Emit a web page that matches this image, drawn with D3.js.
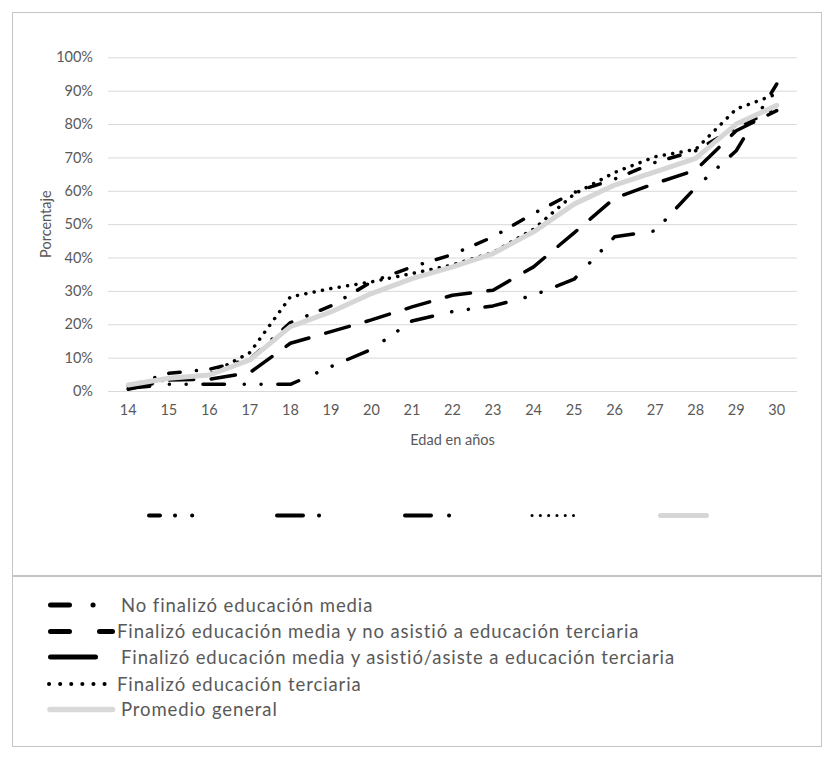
<!DOCTYPE html>
<html>
<head>
<meta charset="utf-8">
<script src="https://cdn.jsdelivr.net/npm/d3@7"></script>
<style>
  body { margin: 0; background: #ffffff; }
  svg text { font-family: Lato, "Open Sans", sans-serif; fill: #595959; }
</style>
</head>
<body>
<div id="dataViz"></div>
<script>
/* categories and values (percent) */
const ages = ["14", "15", "16", "17", "18", "19", "20", "21", "22", "23", "24", "25", "26", "27", "28", "29", "30"];
const noFinalizoMedia   = [0.8, 2, 2, 2, 2, 7.3, 12.5, 21, 23.8, 25.5, 28.7, 33.5, 46.2, 48, 61, 72, 92];
const mediaSinTerciaria = [0.5, 3.3, 3.5, 5.5, 14.3, 17.8, 21.3, 25.2, 28.7, 30.2, 37.2, 47.4, 57.8, 62.2, 66.2, 78, 84];
const mediaConTerciaria = [1.5, 5.3, 6.5, 9.5, 20.5, 25.5, 32.7, 37.2, 40.9, 46.2, 53.2, 59.5, 63.5, 68.5, 72, 79, 84.5];
const terciariaCompleta = [1.5, 3.5, 5, 11.5, 28.2, 30.7, 32.7, 35.2, 37.8, 41.5, 48.5, 59, 65.5, 70.2, 72.4, 84.5, 89];
const promedioGeneral   = [1.8, 3.8, 4.8, 9.3, 19.3, 23.7, 29.2, 33.7, 37.2, 41.2, 47.7, 56, 61.7, 65.7, 69.7, 80, 85.6];
const seriesNames = ["No finalizó educación media",
                     "Finalizó educación media y no asistió a educación terciaria",
                     "Finalizó educación media y asistió/asiste a educación terciaria",
                     "Finalizó educación terciaria",
                     "Promedio general"];
const yTicks = [0, 10, 20, 30, 40, 50, 60, 70, 80, 90, 100];

/* line styles, one per series */
const styles = [
    { color: "#000000", width: 3.5, dash: "21.5,19.75,0.1,16.7,0.1,16.75" },
    { color: "#000000", width: 3.5, dash: "24.5,17.5" },
    { color: "#000000", width: 3.5, dash: "11.5,16.3,0.1,14.5" },
    { color: "#000000", width: 3.5, dash: "0.1,8.4" },
    { color: "#d6d6d6", width: 5,   dash: null }
];

const seriesData = [noFinalizoMedia, mediaSinTerciaria, mediaConTerciaria, terciariaCompleta, promedioGeneral]
    .map((vals, i) => ({ name: seriesNames[i], style: styles[i],
                         values: vals.map((v, j) => ({ age: ages[j], pct: v })) }));

/* dimensions */
const W = 834, H = 759;
const plot = { left: 108, right: 797, top: 57.3, bottom: 391 };

const svg = d3.select("#dataViz")
    .append("svg")
    .attr("width", W)
    .attr("height", H);

/* outer boxes */
svg.append("rect").attr("x", 12.5).attr("y", 12.5).attr("width", 809).attr("height", 563)
    .attr("fill", "none").attr("stroke", "#c4c4c4");
svg.append("rect").attr("x", 12.5).attr("y", 576.5).attr("width", 809).attr("height", 170)
    .attr("fill", "none").attr("stroke", "#c4c4c4");

/* scales */
const x = d3.scaleBand().domain(ages).range([plot.left, plot.right]);
const y = d3.scaleLinear().domain([0, 100]).range([plot.bottom, plot.top]);

/* gridlines + y labels */
const yAxis = svg.append("g")
    .attr("transform", `translate(${plot.left},0)`)
    .call(d3.axisLeft(y).tickValues(yTicks).tickFormat(d => d + "%")
          .tickSize(-(plot.right - plot.left)).tickPadding(15));
yAxis.select(".domain").remove();
yAxis.selectAll(".tick line").attr("stroke", "#d9d9d9").attr("stroke-width", 1);
yAxis.selectAll(".tick text").style("font-size", "14.5px").style("font-family", "Lato, sans-serif")
    .attr("fill", "#595959");

/* x labels */
const xAxis = svg.append("g")
    .attr("transform", `translate(0,${plot.bottom})`)
    .call(d3.axisBottom(x).tickSize(0).tickPadding(14));
xAxis.select(".domain").remove();
xAxis.selectAll(".tick text").style("font-size", "14.5px").style("font-family", "Lato, sans-serif")
    .attr("fill", "#595959");

/* axis titles */
svg.append("text")
    .attr("transform", `translate(51,${(plot.top + plot.bottom) / 2}) rotate(-90)`)
    .attr("text-anchor", "middle")
    .style("font-size", "14.5px")
    .text("Porcentaje");
svg.append("text")
    .attr("x", (plot.left + plot.right) / 2).attr("y", 445)
    .attr("text-anchor", "middle")
    .style("font-size", "14.5px")
    .text("Edad en años");

/* lines */
const line = d3.line()
    .x(d => x(d.age) + x.bandwidth() / 2)
    .y(d => y(d.pct));

svg.append("g").selectAll("path")
    .data(seriesData)
    .enter()
    .append("path")
    .attr("fill", "none")
    .attr("stroke", d => d.style.color)
    .attr("stroke-width", d => d.style.width)
    .attr("stroke-linecap", "round")
    .attr("stroke-linejoin", "round")
    .attr("stroke-dasharray", d => d.style.dash)
    .attr("d", d => line(d.values));

/* upper legend: samples only (labels are blank in the original) */
const topLegend = [
    { x0: 149, x1: 192.6, width: 4, dash: "11,15,0.1,17,0.1,40" },
    { x0: 277, x1: 319.6, width: 4, dash: "26,16,0.1,40" },
    { x0: 405, x1: 449.6, width: 4, dash: "26,18,0.1,40" },
    { x0: 532, x1: 573.5, width: 3, dash: "0.1,8.2" },
    { x0: 660.5, x1: 706.5, width: 5, dash: null }
];
svg.append("g").selectAll("line")
    .data(topLegend)
    .enter()
    .append("line")
    .attr("x1", d => d.x0).attr("x2", d => d.x1)
    .attr("y1", 515.5).attr("y2", 515.5)
    .attr("stroke", (d, i) => styles[i].color)
    .attr("stroke-width", d => d.width)
    .attr("stroke-linecap", "round")
    .attr("stroke-dasharray", d => d.dash);

/* lower legend box */
const bottomLegend = [
    { y: 605,   x0: 50.5, x1: 93.6,  width: 5,   dash: "19,23.5,0.1,100", tx: 121 },
    { y: 631.5, x0: 50.5, x1: 112.5, width: 5,   dash: "19,30,13,100",    tx: 117 },
    { y: 657,   x0: 50.5, x1: 95.5,  width: 5,   dash: null,              tx: 121 },
    { y: 684,   x0: 49,   x1: 115.5, width: 4,   dash: "0.1,11",          tx: 117 },
    { y: 709.5, x0: 50,   x1: 112.5, width: 5.5, dash: null,              tx: 121 }
];
const legRows = svg.append("g").selectAll("g")
    .data(bottomLegend)
    .enter()
    .append("g");
legRows.append("line")
    .attr("x1", d => d.x0).attr("x2", d => d.x1)
    .attr("y1", d => d.y).attr("y2", d => d.y)
    .attr("stroke", (d, i) => i === 4 ? "#d9d9d9" : "#000000")
    .attr("stroke-width", d => d.width)
    .attr("stroke-linecap", "round")
    .attr("stroke-dasharray", d => d.dash);
legRows.append("text")
    .attr("x", d => d.tx)
    .attr("y", d => d.y + 6.5)
    .style("font-size", "18.5px")
    .style("letter-spacing", "0.9px")
    .text((d, i) => seriesNames[i]);
</script>
</body>
</html>
